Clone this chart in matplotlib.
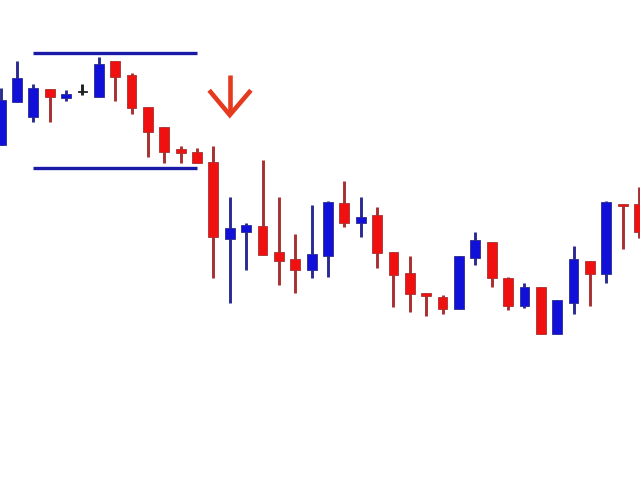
import matplotlib
matplotlib.use("Agg")
import matplotlib.pyplot as plt
import numpy as np

# OHLC data (arbitrary price units)
opens  = [335,378,363,391,382,388,383,419,405,373,353,331,328,318,241,248,254,228,221,210,
          224,277,257,265,228,207,187,183,171,222,238,202,174,193,146,177,219,206,276,276]
highs  = [392,419,396,391,390,396,423,419,407,373,353,334,332,334,283,257,320,283,246,275,
          279,299,283,273,228,224,187,185,224,248,238,203,197,193,180,234,219,279,276,293]
lows   = [335,378,358,358,379,385,383,379,366,323,317,317,317,202,177,210,225,195,187,202,
          203,253,243,212,173,168,164,166,171,215,193,170,172,146,146,166,174,197,231,242]
closes = [380,402,392,383,386,388,416,403,372,348,328,327,317,243,252,255,225,219,210,226,
          278,257,263,227,205,186,184,171,224,240,202,174,193,146,180,221,206,278,274,248]

# range box (support / resistance) and signal arrow
range_start, range_end = 2, 12
range_high, range_low = 427, 312
arrow_idx, arrow_top, arrow_tip = 14, 405, 365

UP_BODY, UP_WICK = "#1010d8", "#2a2a90"
DN_BODY, DN_WICK = "#f01010", "#a83030"
DOJI = "#202020"

fig = plt.figure(figsize=(6.4, 4.8), dpi=100)
ax = fig.add_axes([0, 0, 1, 1])
ax.set_xlim(-0.037, 39.06)
ax.set_ylim(0, 480)
ax.axis("off")

x = np.arange(len(opens))
o = np.array(opens); c = np.array(closes); h = np.array(highs); l = np.array(lows)

body_cols, wick_cols = [], []
for oi, ci in zip(o, c):
    if ci > oi:
        body_cols.append(UP_BODY); wick_cols.append(UP_WICK)
    elif ci < oi:
        body_cols.append(DN_BODY); wick_cols.append(DN_WICK)
    else:
        body_cols.append(DOJI); wick_cols.append(DOJI)

ax.vlines(x, l, h, colors=wick_cols, linewidth=2.1, zorder=2)
bottoms = np.minimum(o, c)
heights = np.maximum(np.abs(c - o), 1.5)
ax.bar(x, heights, bottom=bottoms, width=0.6, color=body_cols,
       edgecolor=[wc for wc in wick_cols], linewidth=0.6, zorder=3)

# range lines
ax.hlines([range_high, range_low], range_start, range_end, colors="#1a1aa8",
          linewidth=2.4, zorder=1)

# red down arrow
acol = "#e63a1e"
ax.plot([arrow_idx, arrow_idx], [arrow_top, arrow_tip + 2], color=acol, lw=3.3,
        solid_capstyle="butt", zorder=4)
ax.plot([arrow_idx - 1.17, arrow_idx, arrow_idx + 1.2],
        [arrow_tip + 23, arrow_tip, arrow_tip + 23], color=acol, lw=3.3,
        solid_joinstyle="miter", zorder=4)

fig.savefig("out.png", dpi=100, facecolor="white")
